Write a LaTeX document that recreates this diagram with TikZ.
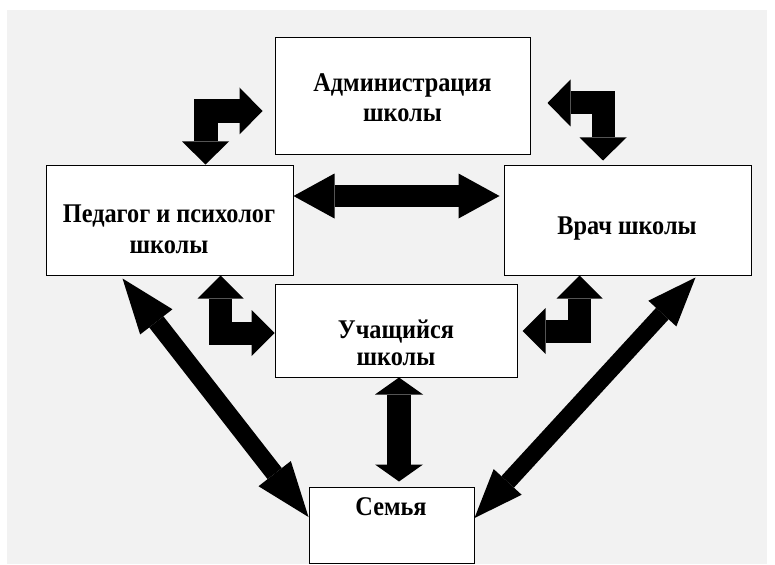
\documentclass[tikz,border=0pt]{standalone}
\usepackage{fontspec}
\setmainfont[FakeStretch=0.9]{Liberation Serif}
\usetikzlibrary{arrows.meta}
\definecolor{bggray}{HTML}{F2F2F2}
\begin{document}
\begin{tikzpicture}[x=1pt,y=-1pt,
  box/.style={draw=black, line width=1pt, fill=white, inner sep=0pt},
  lbl/.style={font=\fontsize{27}{32}\selectfont\bfseries, inner sep=0pt, anchor=base},
  blk/.style n args={3}{draw=black, line width=#1, line join=miter,
    arrows={Triangle[width=#2,length=#3,line width=0pt]-Triangle[width=#2,length=#3,line width=0pt]}}
]
\useasboundingbox (0,0) rectangle (775,564);
\fill[bggray] (7,10) rectangle (767,564);

% boxes
\node[box, minimum width=255pt, minimum height=117pt] (adm) at (402.5,96.5) {};
\node[box, minimum width=247pt, minimum height=110pt] (ped) at (169.5,220) {};
\node[box, minimum width=247pt, minimum height=110pt] (vr) at (627.5,220) {};
\node[box, minimum width=242pt, minimum height=93pt] (uch) at (396,330.5) {};
\node[box, minimum width=165pt, minimum height=76pt] (sem) at (391.5,525) {};

% labels
\node[lbl] (adm1) at (402.5,92) {Администрация};
\node[lbl] (adm2) at (402.5,122) {школы};
\node[lbl] (ped1) at (169,222) {Педагог и психолог};
\node[lbl] (ped2) at (169,253) {школы};
\node[lbl] (vr1) at (627,234) {Врач школы};
\node[lbl] (uch1) at (396,338) {Учащийся};
\node[lbl] (uch2) at (396,365) {школы};
\node[lbl] (sem1) at (391,515) {Семья};

% connector end points
\coordinate (h1) at ([yshift=24pt]ped.east);
\coordinate (h2) at ([xshift=-4pt,yshift=24pt]vr.west);
\coordinate (a1) at ([xshift=36pt]ped.north);
\coordinate (a2) at ([xshift=-12pt,yshift=-14.5pt]adm.west);
\coordinate (b1) at ([xshift=-24.5pt,yshift=4pt]vr.north);
\coordinate (b2) at ([xshift=17pt,yshift=-6.5pt]adm.east);
\coordinate (c1) at ([xshift=51pt]ped.south);
\coordinate (c2) at ([yshift=-2.5pt]uch.west);
\coordinate (d1) at ([xshift=-48pt]vr.south);
\coordinate (d2) at ([xshift=5pt,yshift=-0.5pt]uch.east);
\coordinate (v1) at ([xshift=3pt]uch.south);
\path (v1 |- sem.north) ++(0,-5) coordinate (v2);
\coordinate (l1) at ([xshift=77pt,yshift=-3pt]ped.south west);
\coordinate (l2) at ([yshift=8pt]sem.west);
\coordinate (r1) at ([xshift=-56pt,yshift=-2pt]vr.south east);
\coordinate (r2) at ([yshift=7pt]sem.east);

% arrows
\draw[blk={22pt}{45pt}{41pt}] (h1) -- (h2);
\draw[blk={24pt}{47pt}{23pt}] (a1) |- (a2);
\draw[blk={23pt}{47pt}{23pt}] (b1) |- (b2);
\draw[blk={23pt}{46pt}{23pt}] (c1) |- (c2);
\draw[blk={23pt}{46pt}{23pt}] (d1) |- (d2);
\draw[blk={24pt}{48pt}{17pt}] (v1) -- (v2);
\draw[blk={18pt}{41pt}{55pt}] (l1) -- (l2);
\draw[blk={17pt}{38pt}{49pt}] (r1) -- (r2);
\end{tikzpicture}
\end{document}
